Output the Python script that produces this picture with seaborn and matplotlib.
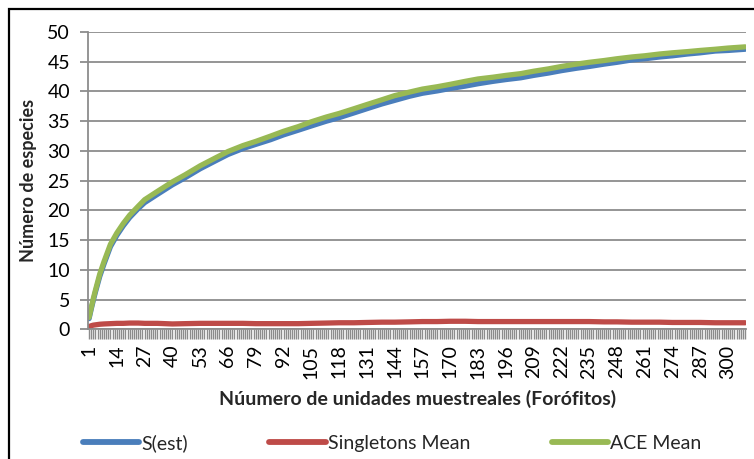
import numpy as np
import pandas as pd
import matplotlib
matplotlib.use("Agg")
import matplotlib.pyplot as plt
import seaborn as sns
from matplotlib.patches import Rectangle

# Sample units (forophytes) at which the curves were read
units = [1, 2, 3, 4, 6, 8, 11, 14, 17, 20, 24, 27, 33, 40, 46, 53, 60, 66, 73, 79,
         86, 92, 99, 105, 112, 118, 125, 131, 138, 144, 151, 157, 164, 170, 177, 183,
         190, 196, 203, 209, 216, 222, 229, 235, 242, 248, 255, 261, 268, 274, 281,
         287, 294, 300, 308]

s_est = [1.8, 3.4, 4.9, 6.3, 8.9, 11.0, 13.9, 15.8, 17.4, 18.8, 20.3, 21.3, 22.7, 24.3,
         25.5, 27.0, 28.3, 29.4, 30.4, 31.1, 31.9, 32.7, 33.5, 34.2, 35.0, 35.6, 36.4,
         37.1, 37.9, 38.5, 39.2, 39.7, 40.1, 40.5, 40.9, 41.3, 41.7, 42.0, 42.3, 42.7,
         43.1, 43.5, 43.9, 44.2, 44.6, 44.9, 45.3, 45.5, 45.8, 46.0, 46.3, 46.5, 46.8,
         46.9, 47.1]

singletons = [0.45, 0.6, 0.7, 0.75, 0.85, 0.9, 0.95, 1.0, 1.0, 1.05, 1.05, 1.0, 1.0, 0.9,
              0.95, 1.0, 1.0, 1.0, 1.0, 0.95, 0.95, 0.95, 0.95, 1.0, 1.05, 1.1, 1.1, 1.15,
              1.2, 1.2, 1.25, 1.3, 1.3, 1.35, 1.35, 1.3, 1.3, 1.3, 1.3, 1.3, 1.3, 1.3, 1.3,
              1.3, 1.25, 1.25, 1.2, 1.2, 1.2, 1.15, 1.15, 1.15, 1.1, 1.1, 1.1]

ace = [2.0, 3.6, 5.2, 6.6, 9.3, 11.4, 14.3, 16.2, 17.8, 19.2, 20.7, 21.8, 23.2, 24.8,
       26.0, 27.5, 28.8, 29.9, 30.9, 31.6, 32.5, 33.3, 34.1, 34.9, 35.7, 36.3, 37.1,
       37.8, 38.6, 39.3, 39.9, 40.4, 40.8, 41.2, 41.7, 42.1, 42.4, 42.7, 43.0, 43.4,
       43.8, 44.2, 44.6, 44.9, 45.2, 45.5, 45.8, 46.0, 46.3, 46.5, 46.7, 46.9, 47.1,
       47.3, 47.5]

series_names = ["S(est)", "Singletons Mean", "ACE Mean"]
colors = ["#4A7EBB", "#BE4B48", "#98B954"]
n_units = 308
label_step = 13

df = pd.DataFrame({
    "unidad": units * 3,
    "valor": s_est + singletons + ace,
    "serie": [series_names[0]] * len(units) + [series_names[1]] * len(units)
             + [series_names[2]] * len(units),
})

sns.set_theme(style="white")
plt.rcParams["font.family"] = ["Lato", "DejaVu Sans"]

fig = plt.figure(figsize=(7.54, 4.59), dpi=100)
ax = fig.add_axes([88 / 754, 1 - 329.3 / 459, (746.2 - 88) / 754, (329.3 - 32) / 459])

sns.lineplot(data=df, x="unidad", y="valor", hue="serie", hue_order=series_names,
             palette=colors, linewidth=3.8, ax=ax, legend=True,
             solid_capstyle="round", solid_joinstyle="round")

ax.set_xlim(0.5, n_units + 0.5)
ax.set_ylim(0, 50)
ax.set_yticks(np.arange(0, 51, 5))
ax.yaxis.grid(True, color="#8c8c8c", linewidth=1.3)
ax.set_axisbelow(True)

labeled = list(range(1, n_units + 1, label_step))
ax.set_xticks(labeled)
ax.set_xticklabels([str(v) for v in labeled], rotation=90)
ax.set_xticks(range(1, n_units + 1), minor=True)
ax.tick_params(axis="x", which="both", length=7, width=1.0, color="#8c8c8c",
               direction="out", bottom=True, pad=4, labelsize=14, labelcolor="black")
ax.tick_params(axis="y", which="major", length=6, width=1.3, color="#8c8c8c",
               direction="out", left=True, pad=7, labelsize=14, labelcolor="black")

for side in ["top", "right"]:
    ax.spines[side].set_visible(False)
for side in ["left", "bottom"]:
    ax.spines[side].set_color("#8c8c8c")
    ax.spines[side].set_linewidth(1.3)

ax.set_xlabel("Núumero de unidades muestreales (Forófitos)", fontsize=14,
              fontweight="bold", labelpad=8)
ax.set_ylabel("Número de especies", fontsize=13, fontweight="bold", labelpad=7)

handles, labels = ax.get_legend_handles_labels()
ax.get_legend().remove()
for h in handles:
    h.set_linewidth(4.2)
    h.set_solid_capstyle("round")
fig.legend(handles, labels, loc="center", bbox_to_anchor=(0.52, 1 - 443 / 459),
           ncol=3, frameon=False, fontsize=14, handlelength=2.9,
           handletextpad=0.1, columnspacing=4.2)

# outer chart frame
fig.patches.append(Rectangle((8.5 / 754, -0.1), 1.2, 1 - 8.5 / 459 + 0.1,
                             transform=fig.transFigure, fill=False,
                             edgecolor="black", linewidth=1.6))

fig.savefig("out.png", dpi=100)
